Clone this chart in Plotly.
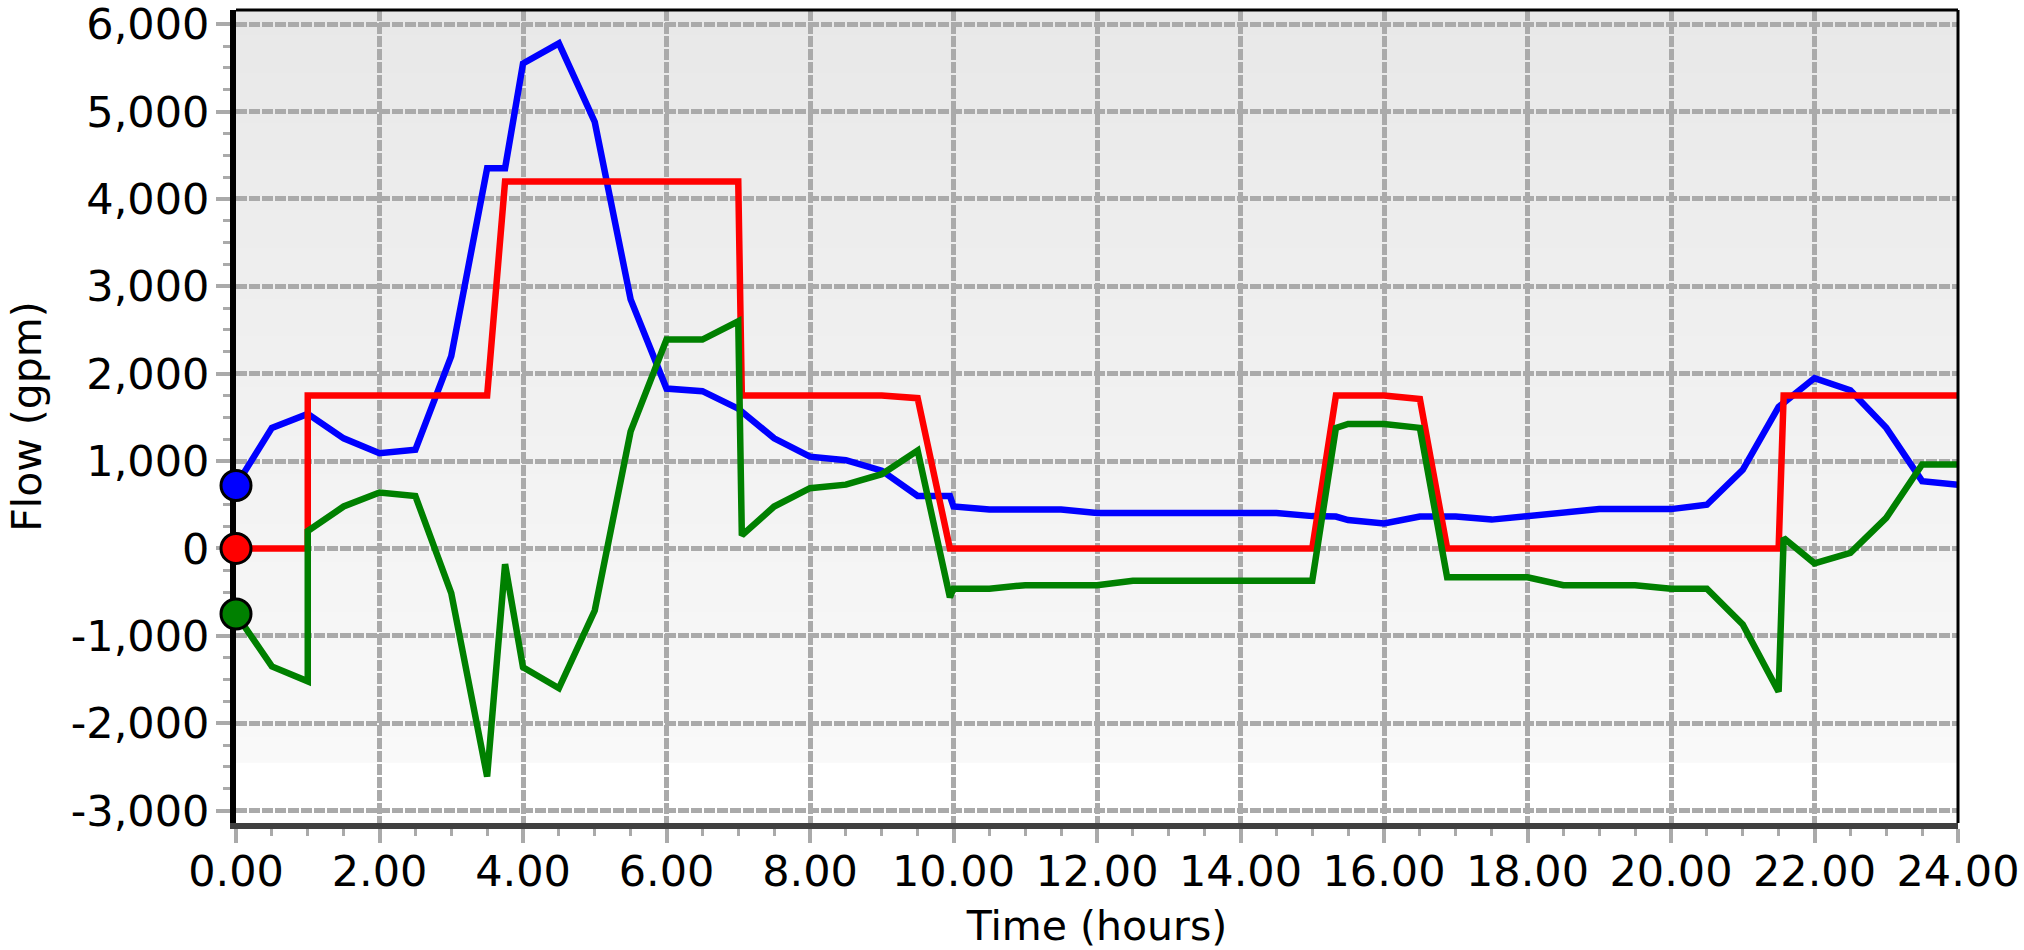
import plotly.graph_objects as go

# ---- data ----
hours_blue = [0, 0.5, 1.0, 1.5, 2.0, 2.5, 3.0, 3.5, 3.75, 4.0,
              4.5, 5.0, 5.5, 6.0, 6.5, 7.0, 7.5, 8.0, 8.5, 9.0,
              9.5, 9.95, 10.0, 10.5, 11.0, 11.5, 12.0, 12.5, 13.0, 13.5,
              14.0, 14.5, 15.0, 15.33, 15.5, 16.0, 16.5, 17.0, 17.5, 18.0,
              18.5, 19.0, 19.5, 20.0, 20.5, 21.0, 21.5, 22.0, 22.5, 23.0,
              23.5, 24.0]
flow_blue = [720, 1380, 1540, 1260, 1090, 1130, 2200, 4350, 4350, 5550,
             5780, 4880, 2850, 1830, 1800, 1600, 1260, 1050, 1010, 890,
             600, 600, 480, 445, 445, 445, 405, 405, 405, 405,
             405, 405, 370, 365, 325, 285, 365, 365, 330, 375,
             415, 450, 450, 450, 500, 900, 1620, 1950, 1810, 1380,
             770, 730]

hours_red = [0, 1.0, 1.0, 3.5, 3.75, 7.0, 7.05, 9.0, 9.5, 9.95,
             15.0, 15.33, 16.0, 16.5, 16.88, 21.5, 21.57, 24.0]
flow_red = [0, 0, 1750, 1750, 4200, 4200, 1750, 1750, 1720, 0,
            0, 1750, 1750, 1710, 0, 0, 1750, 1750]

hours_green = [0, 0.5, 1.0, 1.0, 1.5, 2.0, 2.5, 3.0, 3.5, 3.75,
               4.0, 4.5, 5.0, 5.5, 6.0, 6.5, 7.0, 7.05, 7.5, 8.0,
               8.5, 9.0, 9.5, 9.95, 10.0, 10.5, 11.0, 11.5, 12.0, 12.5,
               13.0, 13.5, 14.0, 14.5, 15.0, 15.33, 15.5, 16.0, 16.5, 16.88,
               17.0, 17.5, 18.0, 18.5, 19.0, 19.5, 20.0, 20.5, 21.0, 21.5,
               21.57, 22.0, 22.5, 23.0, 23.5, 24.0]
flow_green = [-750, -1350, -1520, 200, 480, 640, 600, -510, -2610, -180,
              -1360, -1600, -710, 1340, 2390, 2390, 2600, 150, 480, 690,
              730, 850, 1120, -560, -460, -460, -420, -420, -420, -370,
              -370, -370, -370, -370, -370, 1380, 1425, 1425, 1380, -330,
              -330, -330, -330, -420, -420, -420, -460, -460, -870, -1640,
              120, -170, -50, 350, 960, 960]

y_tickvals = [-3000, -2000, -1000, 0, 1000, 2000, 3000, 4000, 5000, 6000]
y_ticktext = ["-3,000", "-2,000", "-1,000", "0", "1,000", "2,000",
              "3,000", "4,000", "5,000", "6,000"]

series = [
    ("blue", hours_blue, flow_blue, "#0000ff"),
    ("red", hours_red, flow_red, "#ff0000"),
    ("green", hours_green, flow_green, "#008000"),
]

FONT = "DejaVu Sans"
GRID = "#aaaaaa"
TICK_SIZE = 43
TITLE_SIZE = 41

fig = go.Figure()
for name, t, v, c in series:
    fig.add_trace(go.Scatter(x=t, y=v, mode="lines", name=name,
                             line=dict(color=c, width=6.5), showlegend=False,
                             hoverinfo="x+y"))
for name, t, v, c in series:
    fig.add_trace(go.Scatter(x=t[:1], y=v[:1], mode="markers", name=name + " start",
                             marker=dict(color=c, size=30, line=dict(color="black", width=3)),
                             cliponaxis=False, showlegend=False))

# background gradient (light gray at top fading to near white, white band at bottom)
shapes = []
band = 0.074
n = 60
top_rgb = (232, 232, 232)
bot_rgb = (249, 249, 249)
for i in range(n):
    f0 = band + (1 - band) * i / n
    f1 = band + (1 - band) * (i + 1) / n
    w = (i + 0.5) / n
    col = tuple(round(bot_rgb[k] + (top_rgb[k] - bot_rgb[k]) * w) for k in range(3))
    shapes.append(dict(type="rect", xref="x domain", yref="y domain",
                       x0=0, x1=1, y0=f0, y1=f1 + 0.001, layer="below",
                       line=dict(width=0), fillcolor="rgb(%d,%d,%d)" % col))
# thin top/right frame
shapes.append(dict(type="line", xref="x domain", yref="y domain", x0=0, x1=1, y0=1, y1=1,
                   line=dict(color="black", width=3), layer="above"))
shapes.append(dict(type="line", xref="x domain", yref="y domain", x0=1, x1=1, y0=0, y1=1,
                   line=dict(color="black", width=3), layer="above"))

fig.update_layout(
    width=2024, height=950,
    margin=dict(l=236, r=66, t=10, b=127),
    paper_bgcolor="white", plot_bgcolor="white",
    font=dict(family=FONT, size=TICK_SIZE, color="black"),
    shapes=shapes,
    showlegend=False,
)

fig.update_xaxes(
    range=[0, 24], tickmode="linear", tick0=0, dtick=2, tickformat=".2f",
    showgrid=True, gridcolor=GRID, gridwidth=5, griddash="11px,2px",
    zeroline=False, showline=True, linecolor="#404040", linewidth=6,
    ticks="outside", ticklen=14, tickwidth=4, tickcolor=GRID,
    minor=dict(tickmode="linear", tick0=0, dtick=0.5, ticks="outside", ticklen=7,
               tickwidth=3, tickcolor=GRID, showgrid=False),
    tickfont=dict(family=FONT, size=TICK_SIZE, color="black"),
    ticklabelstandoff=-9, ticklabeloverflow="allow",
    title=dict(text="Time (hours)", font=dict(family=FONT, size=TITLE_SIZE, color="black"), standoff=21),
    layer="below traces", automargin=False,
)
fig.update_yaxes(
    range=[-3142, 6162], tickmode="array", tickvals=y_tickvals, ticktext=y_ticktext,
    showgrid=True, gridcolor=GRID, gridwidth=5, griddash="11px,2px",
    zeroline=False, showline=True, linecolor="black", linewidth=6,
    ticks="outside", ticklen=14, tickwidth=4, tickcolor=GRID,
    minor=dict(tickmode="linear", tick0=0, dtick=250, ticks="outside", ticklen=7,
               tickwidth=3, tickcolor=GRID, showgrid=False),
    tickfont=dict(family=FONT, size=TICK_SIZE, color="black"),
    ticklabelstandoff=-2, ticklabeloverflow="allow",
    title=dict(text="Flow (gpm)", font=dict(family=FONT, size=TITLE_SIZE, color="black"), standoff=18),
    layer="below traces", automargin=False,
)

fig.write_html("out.html", config={"displayModeBar": False},
               post_script="document.body.style.margin='0px';document.body.style.overflow='hidden';")
